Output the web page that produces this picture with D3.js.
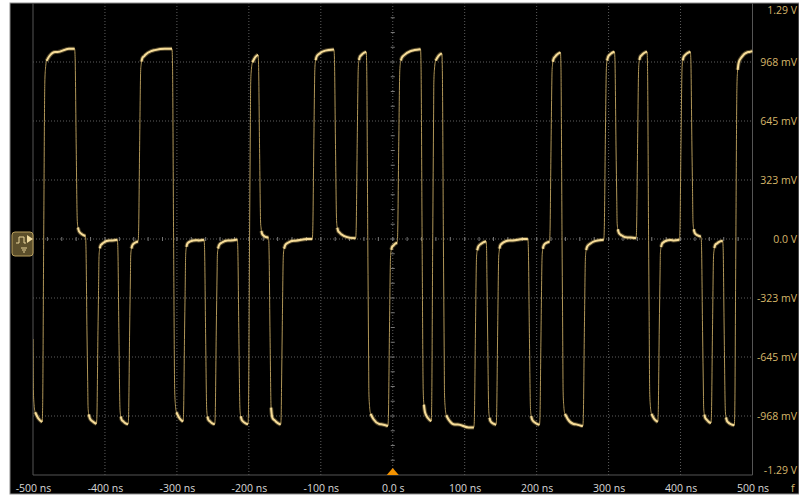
<!DOCTYPE html>
<html>
<head>
<meta charset="utf-8">
<script src="https://cdn.jsdelivr.net/npm/d3@7"></script>
<style>
  html, body { margin: 0; padding: 0; background: #fff; }
  svg { display: block; }
  text { font-family: "Open Sans", "Liberation Sans", sans-serif; }
</style>
</head>
<body>
<div id="chart"></div>
<script>
// level (V) before the first edge, edge times (ns) and the level after each edge
var startLevel = 1.04
var edgeNs = [-501, -485.1, -440, -425, -409.7, -380.6, -365.7, -351.8, -304.6, -289.3,
  -260.1, -245.3, -213.9, -199, -185.1, -170.6, -153.6, -109.7, -79.6, -49.4,
  -34.7, -4.6, 8.3, 40.8, 55.6, 70.4, 114.9, 131.9, 145.8, 189.9,
  206.1, 220, 235.3, 266.3, 295.4, 310.3, 340.3, 355.6, 370.4, 400.6,
  415.8, 430.6, 444.4, 460.7, 476.9]
var edgeLevel = [-1.03, 1.04, 0, -1.03, 0, -1.03, 0, 1.04, -1.03, 0,
  -1.03, 0, -1.03, 1.04, 0, -1.03, 0, 1.04, 0, 1.04,
  -1.03, 0, 1.04, -1.03, 1.04, -1.03, 0, -1.03, 0, -1.03,
  0, 1.04, -1.03, 0, 1.04, 0, 1.04, -1.03, 0, 1.04,
  0, -1.03, 0, -1.03, 1.04]

var xTicks = [-500, -400, -300, -200, -100, 0, 100, 200, 300, 400, 500]
var xTickLabels = ["-500 ns", "-400 ns", "-300 ns", "-200 ns", "-100 ns", "0.0 s",
  "100 ns", "200 ns", "300 ns", "400 ns", "500 ns"]
var yTicks = [1.29, 0.9675, 0.645, 0.3225, 0, -0.3225, -0.645, -0.9675, -1.29]
var yTickLabels = ["1.29 V", "968 mV", "645 mV", "323 mV", "0.0 V",
  "-323 mV", "-645 mV", "-968 mV", "-1.29 V"]

// shape of one edge: fraction of the step reached at dt ns from the edge
var stepDt = [-2.2, -1.5, 0, 1.5, 2.5, 4, 8, 16, 35]
var stepFrac = [0, 0.04, 0.5, 0.9, 0.94, 0.96, 0.975, 0.99, 1]

var W = 799, H = 497

var svg = d3.select("#chart")
  .append("svg")
    .attr("width", W)
    .attr("height", H)

// screen frame
svg.append("rect")
    .attr("x", 10).attr("y", 3)
    .attr("width", W - 10).attr("height", 491)
    .attr("fill", "#000")
    .attr("stroke", "#8c8c8c")

var x = d3.scaleLinear().domain([-500, 500]).range([33, 752.5])
var y = d3.scaleLinear().domain([-1.29, 1.29]).range([475, 3])

// grid
var grid = svg.append("g")
grid.selectAll(".vgrid")
  .data(xTicks.slice(1, -1))
  .enter().append("line")
    .attr("x1", function(d) { return x(d) }).attr("x2", function(d) { return x(d) })
    .attr("y1", y(1.29)).attr("y2", y(-1.29))
    .attr("stroke", "#5e5e5e")
    .attr("stroke-dasharray", "1,2")
grid.selectAll(".hgrid")
  .data(yTicks.slice(1, -1))
  .enter().append("line")
    .attr("x1", x(-500)).attr("x2", x(500))
    .attr("y1", function(d) { return y(d) }).attr("y2", function(d) { return y(d) })
    .attr("stroke", "#5e5e5e")
    .attr("stroke-dasharray", "1,2")

// minor ticks on the centre lines
grid.selectAll(".tx")
  .data(d3.range(-24, 25).map(function(k) { return k * 20 }))
  .enter().append("line")
    .attr("x1", function(d) { return x(d) }).attr("x2", function(d) { return x(d) })
    .attr("y1", y(0) - 2).attr("y2", y(0) + 2)
    .attr("stroke", "#777")
grid.selectAll(".ty")
  .data(d3.range(-15, 16).map(function(k) { return k * 0.3225 / 4 }))
  .enter().append("line")
    .attr("x1", x(0) - 2).attr("x2", x(0) + 2)
    .attr("y1", function(d) { return y(d) }).attr("y2", function(d) { return y(d) })
    .attr("stroke", "#777")

// plot borders
svg.append("path")
    .attr("d", "M" + x(-500) + "," + y(1.29) + "V" + y(-1.29) + "H" + x(500) + "V" + y(1.29))
    .attr("fill", "none")
    .attr("stroke", "#555")

// build the waveform from the edges
var step = d3.scaleLinear().domain(stepDt).range(stepFrac).clamp(true)
var prev = [startLevel].concat(edgeLevel.slice(0, -1))
function volts(t) {
  var v = startLevel
  edgeNs.forEach(function(te, i) { v += (edgeLevel[i] - prev[i]) * step(t - te) })
  return v
}
var times = [-500, 500]
edgeNs.forEach(function(te) {
  stepDt.forEach(function(dt) { times.push(te + dt) })
})
times = times.filter(function(t) { return t >= -500 && t <= 500 }).sort(d3.ascending)
var pts = times.map(function(t) { return {t: t, v: volts(t)} })

// the settled parts (shallow slope on screen) are drawn bright and thick
function slope(a, b) {
  var dx = x(b.t) - x(a.t)
  return dx > 0 ? Math.abs(y(b.v) - y(a.v)) / dx : 0
}
pts.forEach(function(p, i) {
  var s0 = i > 0 ? slope(pts[i - 1], p) : 99
  var s1 = i < pts.length - 1 ? slope(p, pts[i + 1]) : 99
  p.flat = Math.min(s0, s1) < 4
})

svg.append("clipPath").attr("id", "clip")
  .append("rect")
    .attr("x", x(-500)).attr("y", y(1.29))
    .attr("width", x(500) - x(-500)).attr("height", y(-1.29) - y(1.29))

var line = d3.line()
    .x(function(d) { return x(d.t) })
    .y(function(d) { return y(d.v) })
    .curve(d3.curveMonotoneX)

var trace = svg.append("g").attr("clip-path", "url(#clip)")
trace.append("path")
    .datum(pts)
    .attr("d", line)
    .attr("fill", "none")
    .attr("stroke", "#b09658")
    .attr("stroke-width", 1)
var flatLine = line.defined(function(d) { return d.flat })
trace.append("path")
    .datum(pts)
    .attr("d", flatLine)
    .attr("fill", "none")
    .attr("stroke", "#e8c878")
    .attr("stroke-opacity", 0.35)
    .attr("stroke-width", 4)
trace.append("path")
    .datum(pts)
    .attr("d", flatLine)
    .attr("fill", "none")
    .attr("stroke", "#f6dc98")
    .attr("stroke-width", 2)

// axes labels
var xAxis = svg.append("g")
    .attr("transform", "translate(0," + y(-1.29) + ")")
    .call(d3.axisBottom(x).tickValues(xTicks)
      .tickFormat(function(d, i) { return xTickLabels[i] }).tickSize(0))
xAxis.select(".domain").remove()
xAxis.selectAll("text")
    .attr("y", 17).attr("dy", null)
    .attr("fill", "#d8d8d8")
    .style("font-size", "10.5px")

var yAxis = svg.append("g")
    .attr("transform", "translate(" + x(500) + ",0)")
    .call(d3.axisRight(y).tickValues(yTicks)
      .tickFormat(function(d, i) { return yTickLabels[i] }).tickSize(0))
yAxis.select(".domain").remove()
yAxis.selectAll("text")
    .attr("x", 797 - x(500))
    .attr("text-anchor", "end")
    .attr("dy", function(d, i) { return i == 0 ? "1.0em" : (i == yTicks.length - 1 ? "-0.15em" : "0.32em") })
    .attr("fill", "#d6b66a")
    .style("font-size", "10.5px")

svg.append("text")
    .attr("x", 791).attr("y", 492)
    .attr("fill", "#d6b66a")
    .style("font-size", "10.5px")
    .text("f")

// trigger marker
var tx = x(0), by = y(-1.29)
svg.append("path")
    .attr("d", "M" + (tx - 6) + "," + by + "L" + (tx + 6) + "," + by + "L" + tx + "," + (by - 7) + "Z")
    .attr("fill", "#f39200")

// channel badge
var cy = y(0)
var badge = svg.append("g")
badge.append("rect")
    .attr("x", 12).attr("y", cy - 7)
    .attr("width", 21).attr("height", 24).attr("rx", 3)
    .attr("fill", "#5c4f2b")
    .attr("stroke", "#b9a05e")
badge.append("path")
    .attr("d", "M27," + (cy - 4) + "L33," + cy + "L27," + (cy + 4) + "Z")
    .attr("fill", "#f1dca0")
badge.append("path")
    .attr("d", "M16," + (cy + 4) + "H19V" + (cy - 2) + "H24V" + (cy + 4) + "H26")
    .attr("fill", "none")
    .attr("stroke", "#e8d49a")
badge.append("path")
    .attr("d", "M21," + (cy + 9) + "H27M22," + (cy + 11) + "H26M23," + (cy + 13) + "H25")
    .attr("stroke", "#e8d49a")
</script>
</body>
</html>
